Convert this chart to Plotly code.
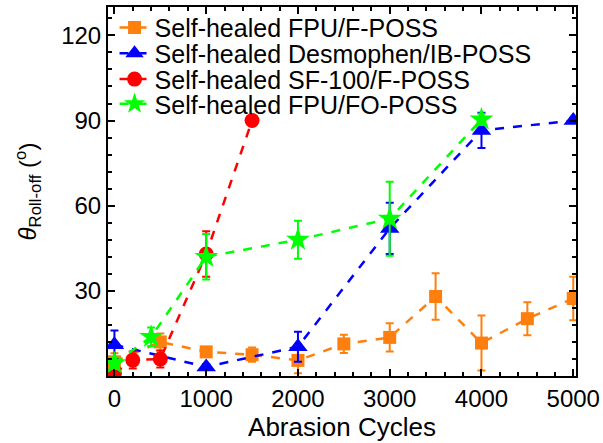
import plotly.graph_objects as go

# Roll-off angle after abrasion for four self-healed coatings
fpu_f_cycles = [0, 500, 1000, 1500, 2000, 2500, 3000, 3500, 4000, 4500, 5000]
fpu_f_angle = [5, 12, 8.5, 7.5, 5.5, 11.3, 13.6, 28, 11.6, 20.2, 27.3]
fpu_f_err = [3, 3, 1.5, 2.5, 4.5, 3.2, 5, 8.2, 9.7, 5.8, 7.7]

desmo_cycles = [0, 1000, 2000, 3000, 4000, 5000]
desmo_angle = [11, 3.2, 10.3, 52, 86.5, 90]
desmo_err = [5, 1, 5.3, 9, 6.2, 0.8]

sf100_cycles = [0, 200, 500, 1000, 1500]
sf100_angle = [1, 5.6, 6, 43, 90]
sf100_err = [1, 3, 3, 8, 0]

fpu_fo_cycles = [0, 400, 1000, 2000, 3000, 4000]
fpu_fo_angle = [4.5, 13.8, 42, 48, 55.4, 90.4]
fpu_fo_err = [2, 3.3, 8, 6.7, 13, 2]

x_ticks = [0, 1000, 2000, 3000, 4000, 5000]
y_ticks = [30, 60, 90, 120]

FONT = "Liberation Sans, Arial, sans-serif"

series = [
    ("Self-healed FPU/F-POSS", fpu_f_cycles, fpu_f_angle, fpu_f_err, "#FF7F0E", "square", 13),
    ("Self-healed Desmophen/IB-POSS", desmo_cycles, desmo_angle, desmo_err, "#0000FF", "triangle-up", 17),
    ("Self-healed SF-100/F-POSS", sf100_cycles, sf100_angle, sf100_err, "#FF0000", "circle", 15),
    ("Self-healed FPU/FO-POSS", fpu_fo_cycles, fpu_fo_angle, fpu_fo_err, "#00FF00", "star", 18),
]

# one legend box per series so the rows can sit tightly stacked
legend_ids = ["legend", "legend2", "legend3", "legend4"]
legend_rows = [0.944, 0.874, 0.804, 0.737]

fig = go.Figure()
for (name, xs, ys, errs, color, symbol, size), lid in zip(series, legend_ids):
    fig.add_trace(go.Scatter(
        x=xs, y=ys, name=name, mode="lines+markers", legend=lid, showlegend=True,
        line=dict(color=color, width=2.5, dash="dash"),
        marker=dict(color=color, symbol=symbol, size=size, line=dict(width=0)),
        error_y=dict(type="data", array=errs, visible=True, color=color,
                     thickness=2, width=4),
    ))

axis_common = dict(
    showline=True, linecolor="black", linewidth=2, mirror="allticks",
    ticks="inside", ticklen=7, tickwidth=1.5, tickcolor="black",
    showgrid=False, zeroline=False,
    tickfont=dict(family=FONT, size=24, color="black"),
)

fig.update_xaxes(
    range=[-70, 5030], tickvals=x_ticks,
    minor=dict(ticks="inside", ticklen=4, tickwidth=1.5, tickcolor="black", dtick=200, tick0=0),
    title=dict(text="Abrasion Cycles", font=dict(family=FONT, size=26, color="black"), standoff=4),
    **axis_common,
)
fig.update_yaxes(
    range=[0, 130], tickvals=y_ticks,
    minor=dict(ticks="inside", ticklen=4, tickwidth=1.5, tickcolor="black", dtick=6, tick0=0),
    title=dict(text="<i>θ</i><sub>Roll-off</sub> (<sup>o</sup>)",
               font=dict(family=FONT, size=24, color="black"), standoff=18),
    **axis_common,
)

legend_style = dict(x=0.014, xanchor="left", yanchor="middle",
                    bgcolor="rgba(0,0,0,0)", borderwidth=0,
                    font=dict(family=FONT, size=25, color="black"), itemwidth=30)
layout_legends = {lid: dict(y=row, **legend_style) for lid, row in zip(legend_ids, legend_rows)}

fig.update_layout(
    width=603, height=443,
    margin=dict(l=108, r=27, t=7, b=67, autoexpand=False),
    paper_bgcolor="white", plot_bgcolor="white",
    font=dict(family=FONT, color="black"),
    showlegend=True,
    **layout_legends,
)

fig.write_html("out.html")
